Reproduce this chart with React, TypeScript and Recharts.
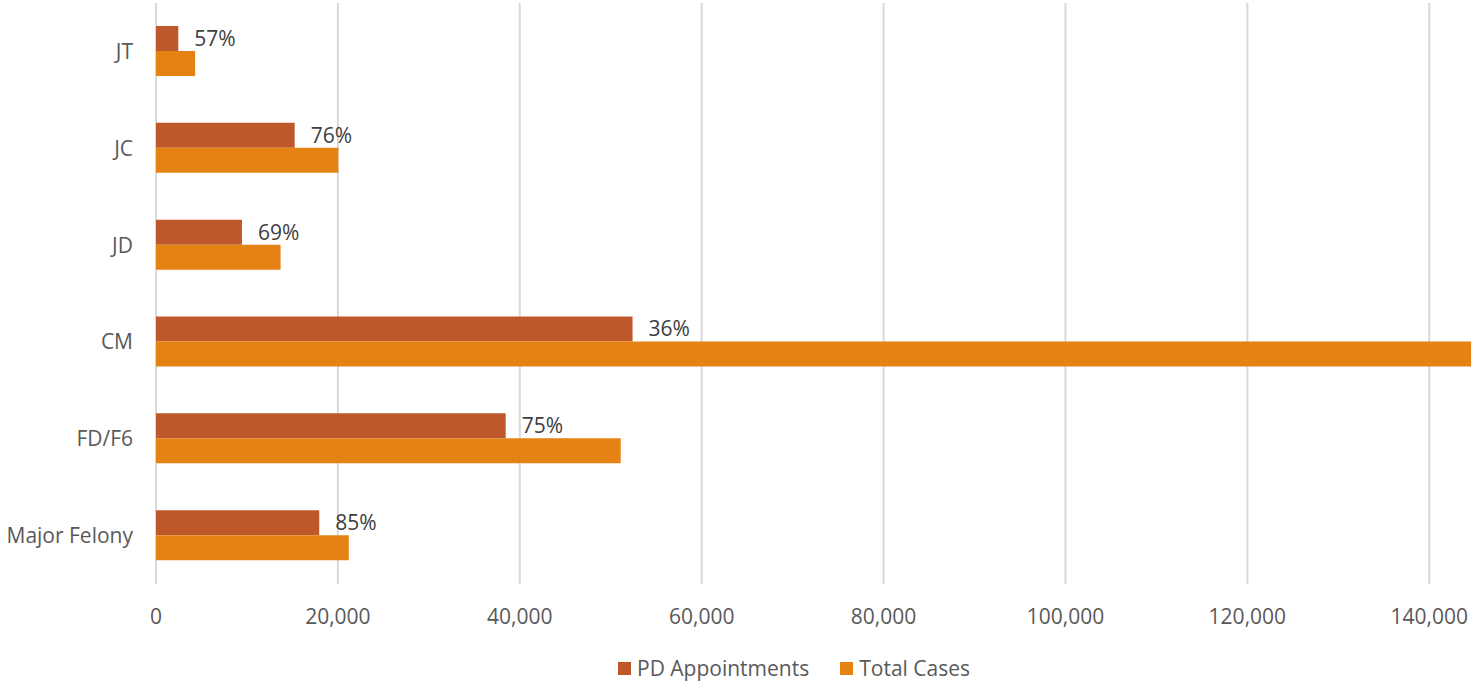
import { BarChart, Bar, XAxis, YAxis, CartesianGrid, Legend, LabelList } from 'recharts';

const categories = ['JT', 'JC', 'JD', 'CM', 'FD/F6', 'Major Felony'];
const pdAppointments = [2450, 15250, 9450, 52400, 38450, 17950];
const totalCases = [4300, 20050, 13700, 144600, 51100, 21200];
const pctLabels = [57, 76, 69, 36, 75, 85];
const xTicks = [0, 20000, 40000, 60000, 80000, 100000, 120000, 140000];
const X_MAX = 144700;

const PD_COLOR = '#BE582B';
const TOTAL_COLOR = '#E58214';
const FONT = '"Open Sans", "DejaVu Sans", sans-serif';

const data = categories.map((name, i) => ({
  name,
  pd: pdAppointments[i],
  total: totalCases[i],
  pct: pctLabels[i],
}));

function ChartLegend() {
  const items = [
    { label: 'PD Appointments', color: PD_COLOR },
    { label: 'Total Cases', color: TOTAL_COLOR },
  ];
  return (
    <div style={{ display: 'flex', paddingLeft: 618, paddingTop: 14, fontFamily: FONT, fontSize: 21, color: '#595959' }}>
      {items.map((it, i) => (
        <div key={it.label} style={{ display: 'flex', alignItems: 'center', marginRight: i === 0 ? 31 : 0 }}>
          <span style={{ width: 13, height: 13, background: it.color, display: 'inline-block', marginRight: 6 }} />
          <span style={{ lineHeight: '24px' }}>{it.label}</span>
        </div>
      ))}
    </div>
  );
}

// only draw grid lines at the tick values (no extra line at the right edge)
const gridX = ({ xAxis, offset }: any) =>
  xTicks.map(t =>
    xAxis && typeof xAxis.scale === 'function'
      ? xAxis.scale(t)
      : offset.left + (t / X_MAX) * offset.width
  );

export default function App() {
  return (
    <div style={{ position: 'absolute', left: 0, top: 0, background: '#fff' }}>
      <BarChart
        width={1473}
        height={683}
        data={data}
        layout="vertical"
        margin={{ top: 3, right: 1, bottom: 0, left: 0 }}
        barSize={25}
        barGap={0}
      >
        <CartesianGrid horizontal={false} stroke="#D9D9D9" strokeWidth={2} verticalCoordinatesGenerator={gridX} />
        <XAxis
          type="number"
          domain={[0, X_MAX]}
          ticks={xTicks}
          allowDataOverflow
          axisLine={false}
          tickLine={false}
          tickSize={0}
          tickMargin={25}
          height={58}
          tick={{ fill: '#595959', fontSize: 21, fontFamily: FONT }}
          tickFormatter={(v: number) => v.toLocaleString('en-US')}
        />
        <YAxis
          type="category"
          dataKey="name"
          width={156}
          axisLine={false}
          tickLine={false}
          tickSize={0}
          tickMargin={23}
          tick={{ fill: '#595959', fontSize: 21, fontFamily: FONT }}
        />
        <Legend verticalAlign="bottom" height={41} content={() => <ChartLegend />} />
        <Bar dataKey="pd" name="PD Appointments" fill={PD_COLOR} isAnimationActive={false}>
          <LabelList
            dataKey="pct"
            position="right"
            offset={16}
            formatter={(v: number) => `${v}%`}
            style={{ fill: '#404040', fontSize: 21, fontFamily: FONT }}
          />
        </Bar>
        <Bar dataKey="total" name="Total Cases" fill={TOTAL_COLOR} isAnimationActive={false} />
      </BarChart>
    </div>
  );
}
